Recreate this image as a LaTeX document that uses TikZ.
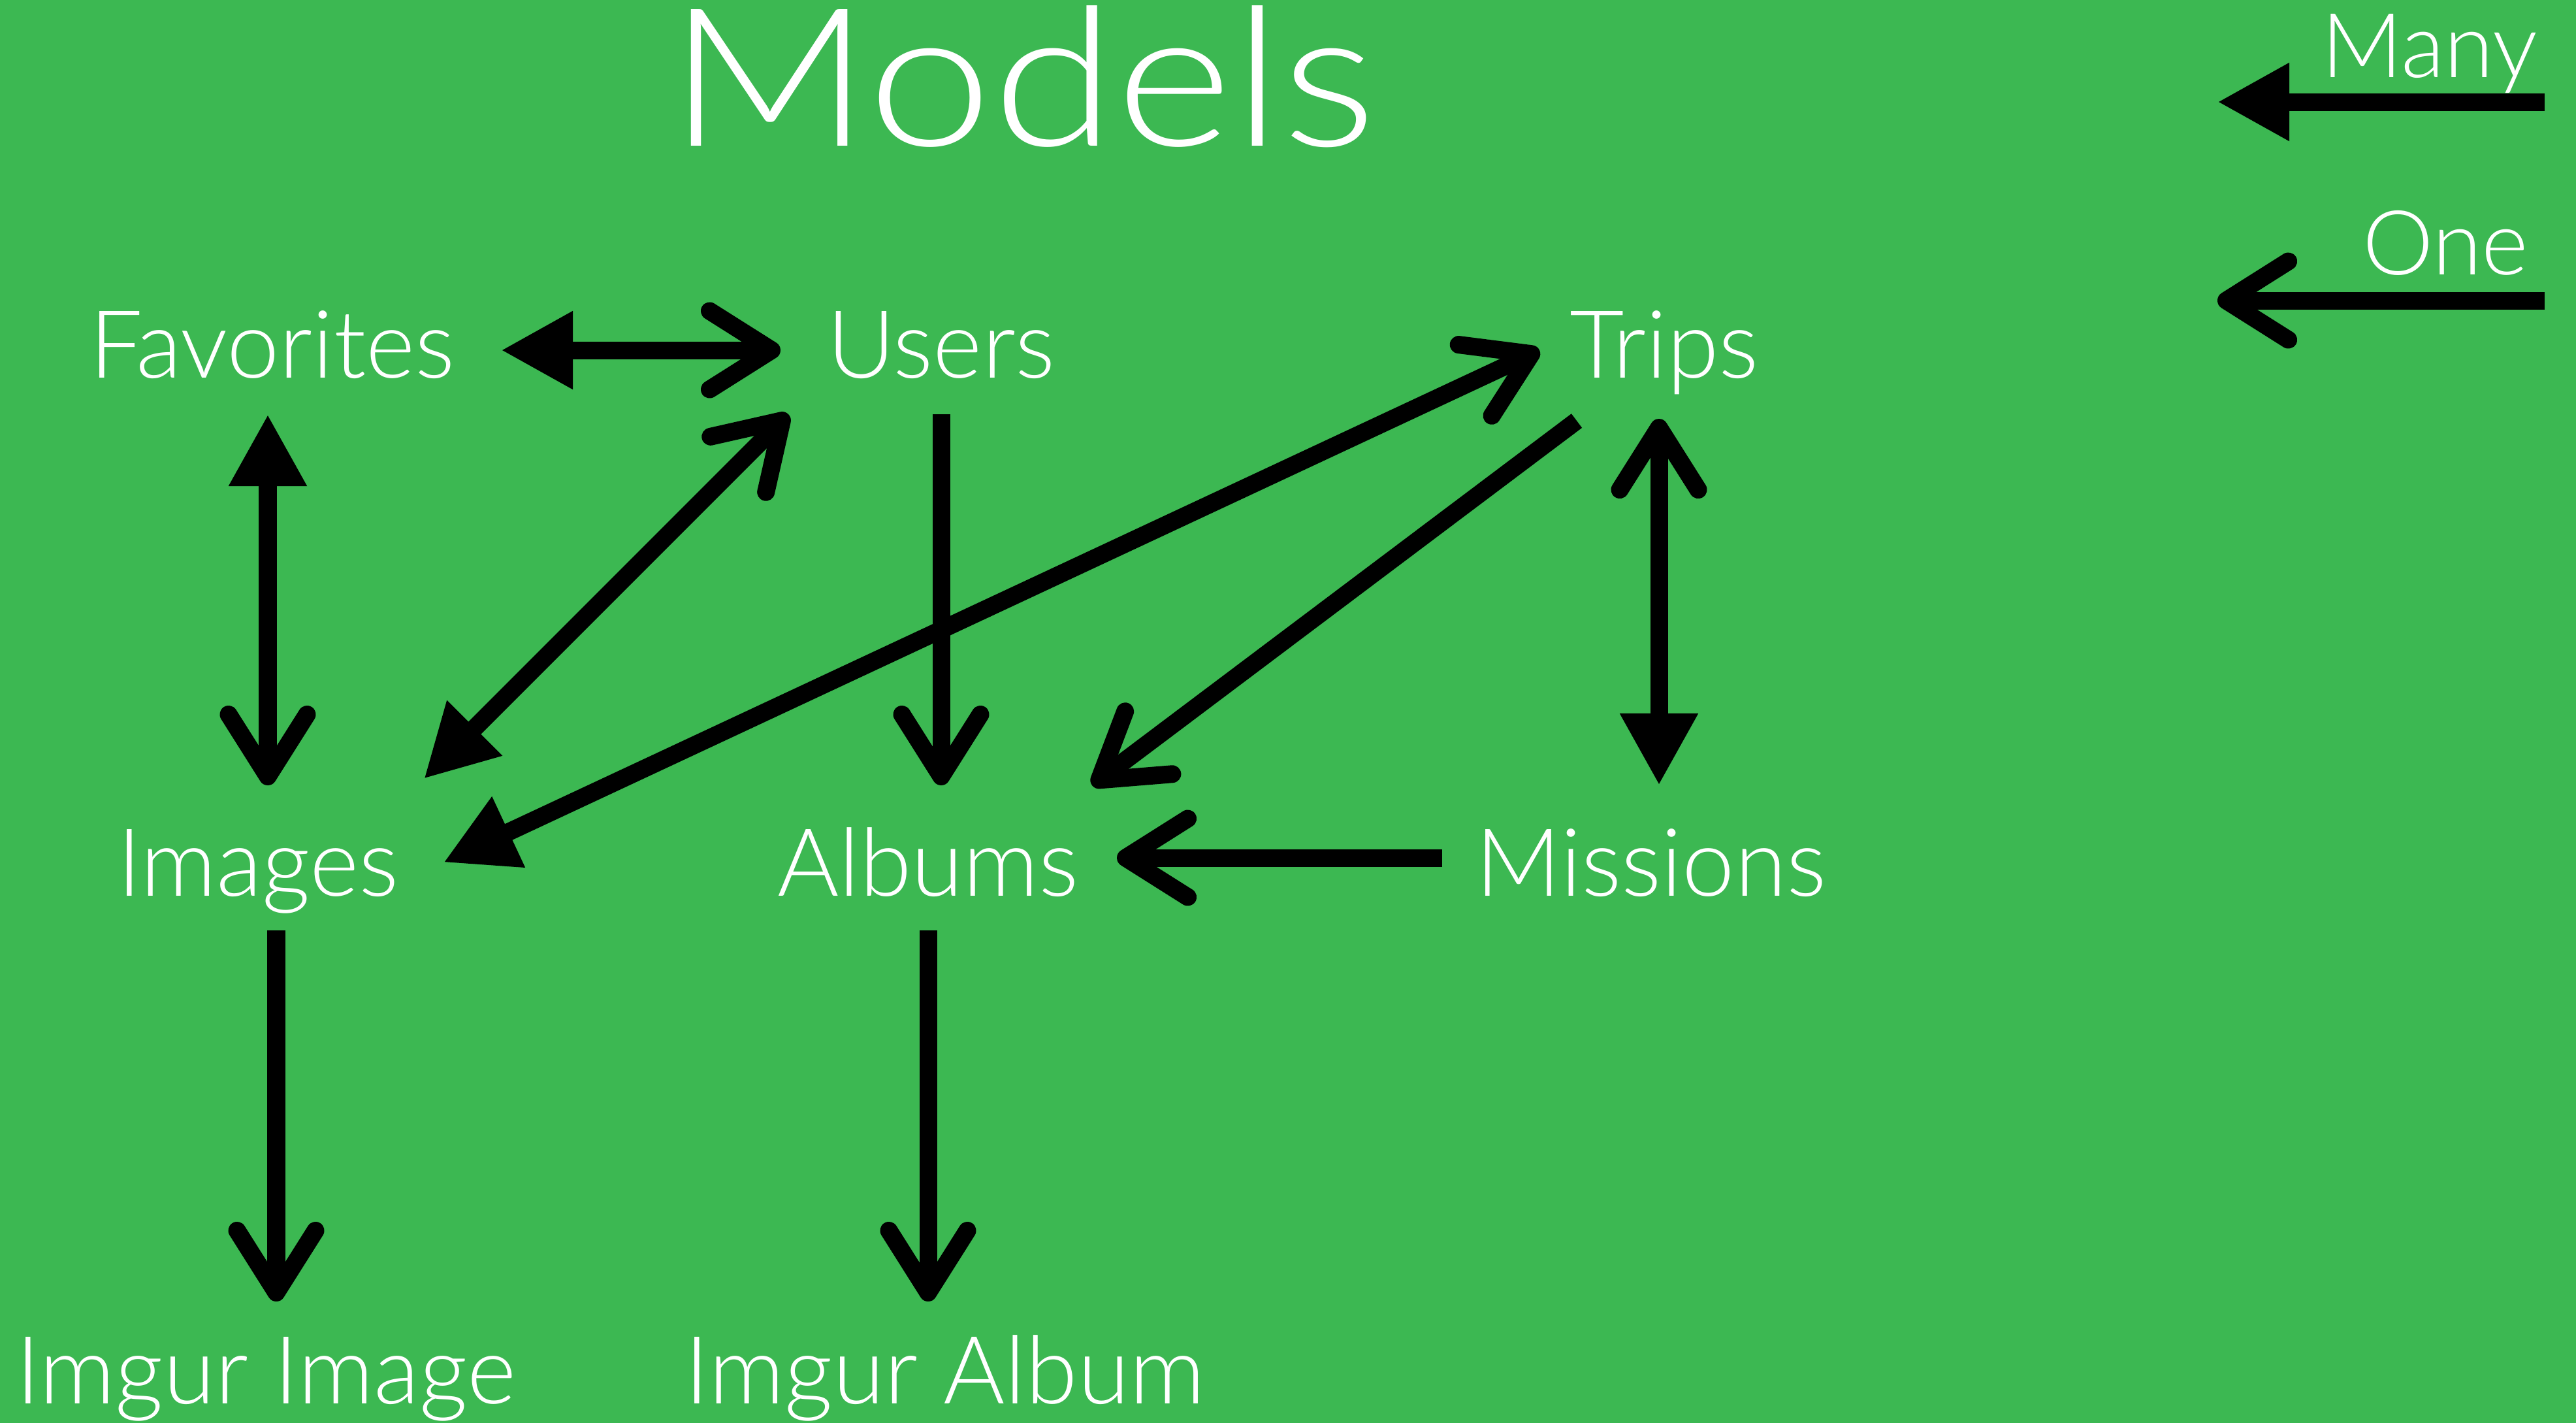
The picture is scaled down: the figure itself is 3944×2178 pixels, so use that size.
\documentclass[tikz,border=0pt]{standalone}
\usepackage{fontspec}
\newfontfamily\thinfont{Lato Light}
\usetikzlibrary{arrows.meta, calc}
\definecolor{leaf}{RGB}{60,184,82}

\tikzset{
  many/.tip={Triangle[length=1.1cm,width=1.12cm]},
  one/.tip={Straight Barb[length=0.95cm,width=1.2cm,round]},
  link/.style={line width=0.27cm},
  entity/.style={text=white, inner sep=0pt, anchor=base, font=\thinfont\fontsize{41pt}{46pt}\selectfont},
}

\begin{document}
\begin{tikzpicture}[x=0.01cm,y=-0.01cm]
	\fill[leaf] (0,0) rectangle (3944,2178);
	% title and legend
	\node[entity, font=\thinfont\fontsize{84pt}{96pt}\selectfont] (title) at (1565,223) {\scalebox{1.16}[1]{Models}};
	\node[entity, anchor=base east, font=\thinfont\fontsize{39pt}{44pt}\selectfont] (manylbl) at (3886,118) {Many};
	\node[entity, anchor=base east, font=\thinfont\fontsize{39pt}{44pt}\selectfont] (onelbl) at (3872,420) {One};
	\coordinate (manyA) at (3896,156);
	\coordinate (manyB) at (3395,156);
	\coordinate (oneA) at (3896,460);
	\coordinate (oneB) at (3395,460);
	\draw[link, -many] (manyA) -- (manyB);
	\draw[link, -one] (oneA) -- (oneB);

	% models
	\node[entity] (fav)      at (417,578)   {Favorites};
	\node[entity] (users)    at (1441,578)  {Users};
	\node[entity] (trips)    at (2548,578)  {Trips};
	\node[entity] (imgs)     at (395,1371)  {Images};
	\node[entity] (albums)   at (1421,1371) {Albums};
	\node[entity] (missions) at (2528,1371) {Missions};
	\node[entity] (imgurimg) at (407,2148)  {Imgur Image};
	\node[entity] (imguralb) at (1447,2148) {Imgur Album};

	% relations
	\draw[link, many-one] ($(fav.base)+(350,-42)$) -- ($(users.base)+(-246,-42)$);
	\draw[link, many-one] ($(fav.base)+(-7,56)$) -- ($(imgs.base)+(15,-169)$);
	\draw[link, many-one] ($(imgs.base)+(254,-179)$) -- ($(users.base)+(-234,56)$);
	\draw[link, -one] ($(users.base)+(0,56)$) -- ($(albums.base)+(20,-169)$);
	\draw[link, many-one] ($(imgs.base)+(284,-51)$) -- ($(trips.base)+(-191,-42)$);
	\draw[link, -one] ($(trips.base)+(-134,66)$) -- ($(albums.base)+(251,-169)$);
	\draw[link, many-one] ($(missions.base)+(12,-169)$) -- ($(trips.base)+(-8,63)$);
	\draw[link, -one] ($(missions.base)+(-320,-58)$) -- ($(albums.base)+(289,-58)$);
	\draw[link, -one] ($(imgs.base)+(28,53)$) -- ($(imgurimg.base)+(16,-156)$);
	\draw[link, -one] ($(albums.base)+(0,53)$) -- ($(imguralb.base)+(-26,-156)$);
\end{tikzpicture}
\end{document}
